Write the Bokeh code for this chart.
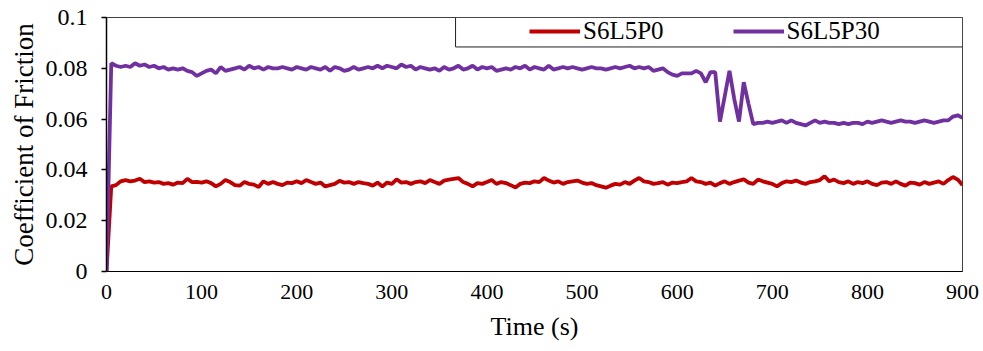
from bokeh.plotting import figure
from bokeh.models import (ColumnDataSource, FixedTicker, Legend, LegendItem,
                          BoxAnnotation)
from bokeh.embed import file_html
from bokeh.resources import INLINE

# ---------------- data ----------------
time_s = list(range(0, 901, 5))

s6l5p0 = [
    0, 0.0335, 0.034, 0.0355, 0.036, 0.0355, 0.0358, 0.0365, 0.0352, 0.0355,
    0.035, 0.0352, 0.0345, 0.0348, 0.0342, 0.035, 0.0348, 0.0365, 0.0352, 0.0353,
    0.035, 0.0355, 0.0348, 0.0335, 0.0345, 0.036, 0.0352, 0.034, 0.0338, 0.0352,
    0.0345, 0.0342, 0.0333, 0.0355, 0.0345, 0.0352, 0.0345, 0.034, 0.035, 0.0348,
    0.0355, 0.0348, 0.036, 0.0352, 0.0345, 0.035, 0.0335, 0.034, 0.0345, 0.0357,
    0.035, 0.0352, 0.0345, 0.0352, 0.0348, 0.0345, 0.0338, 0.035, 0.0335, 0.035,
    0.0345, 0.0363, 0.035, 0.0352, 0.0345, 0.0352, 0.0355, 0.0348, 0.036, 0.0352,
    0.0345, 0.0358, 0.0362, 0.0365, 0.0368, 0.0352, 0.0345, 0.0335, 0.0348, 0.0345,
    0.0352, 0.036, 0.0345, 0.0352, 0.0348, 0.034, 0.0331, 0.0345, 0.035, 0.0348,
    0.0355, 0.0352, 0.0368, 0.0358, 0.035, 0.0355, 0.0345, 0.0352, 0.0355, 0.0358,
    0.035, 0.0345, 0.0348, 0.034, 0.0335, 0.033, 0.0338, 0.0345, 0.0342, 0.0352,
    0.0345, 0.0358, 0.0368, 0.0355, 0.0352, 0.0345, 0.0348, 0.0352, 0.0342, 0.035,
    0.0348, 0.0352, 0.0355, 0.0368, 0.0355, 0.0352, 0.0345, 0.035, 0.0338, 0.0348,
    0.0355, 0.0345, 0.0352, 0.0358, 0.0363, 0.035, 0.0345, 0.0362, 0.0355, 0.035,
    0.0345, 0.0335, 0.0348, 0.0355, 0.0352, 0.0358, 0.035, 0.0345, 0.0352, 0.0355,
    0.036, 0.0375, 0.0355, 0.0362, 0.0352, 0.0348, 0.0355, 0.0345, 0.0352, 0.0348,
    0.0355, 0.0345, 0.034, 0.035, 0.0352, 0.0345, 0.0355, 0.0345, 0.0338, 0.035,
    0.0348, 0.0342, 0.0352, 0.0345, 0.035, 0.0355, 0.0345, 0.036, 0.0372, 0.0362,
    0.034,
]

s6l5p30 = [
    0, 0.082, 0.081, 0.0805, 0.081, 0.0805, 0.082, 0.081, 0.0815, 0.0805,
    0.081, 0.080, 0.0805, 0.0795, 0.080, 0.0795, 0.080, 0.079, 0.0785, 0.077,
    0.078, 0.079, 0.0795, 0.078, 0.0805, 0.079, 0.0795, 0.080, 0.0805, 0.0795,
    0.081, 0.080, 0.0805, 0.0795, 0.0805, 0.080, 0.080, 0.0805, 0.080, 0.0795,
    0.0805, 0.080, 0.0795, 0.0805, 0.080, 0.0795, 0.0805, 0.079, 0.0805, 0.080,
    0.079, 0.0795, 0.0805, 0.0795, 0.080, 0.0805, 0.080, 0.081, 0.080, 0.081,
    0.0805, 0.080, 0.0815, 0.0805, 0.081, 0.0795, 0.0805, 0.080, 0.0795, 0.080,
    0.079, 0.0805, 0.0795, 0.080, 0.081, 0.0795, 0.080, 0.081, 0.0795, 0.0805,
    0.080, 0.0805, 0.079, 0.0795, 0.080, 0.0795, 0.0805, 0.080, 0.081, 0.0795,
    0.0805, 0.080, 0.0795, 0.081, 0.0795, 0.080, 0.0805, 0.080, 0.0805, 0.080,
    0.0795, 0.080, 0.0805, 0.080, 0.080, 0.0795, 0.080, 0.0805, 0.080, 0.0805,
    0.081, 0.080, 0.0805, 0.080, 0.0805, 0.079, 0.0795, 0.080, 0.0785, 0.0775,
    0.077, 0.078, 0.078, 0.078, 0.079, 0.078, 0.0745, 0.0785, 0.0785, 0.059,
    0.069, 0.079, 0.068, 0.059, 0.0745, 0.066, 0.058, 0.0585, 0.0585, 0.059,
    0.0585, 0.059, 0.0595, 0.0585, 0.0595, 0.0585, 0.058, 0.0575, 0.0585, 0.0595,
    0.0585, 0.059, 0.0585, 0.0585, 0.058, 0.0585, 0.058, 0.0585, 0.0585, 0.058,
    0.059, 0.0585, 0.059, 0.0595, 0.059, 0.0585, 0.059, 0.0595, 0.059, 0.059,
    0.0585, 0.059, 0.0595, 0.059, 0.0585, 0.059, 0.0595, 0.0595, 0.061, 0.0615,
    0.0605,
]

series_names = ["S6L5P0", "S6L5P30"]
x_ticks = [0, 100, 200, 300, 400, 500, 600, 700, 800, 900]
y_ticks = [0, 0.02, 0.04, 0.06, 0.08, 0.1]
y_tick_labels = ["0", "0.02", "0.04", "0.06", "0.08", "0.1"]

# ---------------- figure ----------------
FONT = "Liberation Serif"
RED = "#C00000"
PURPLE = "#7030A0"

p = figure(width=983, height=350, x_range=(0, 900), y_range=(0, 0.1),
           output_backend="svg", toolbar_location=None,
           min_border_left=106, min_border_right=21,
           min_border_top=17, min_border_bottom=79)
p.outline_line_color = "#404040"
p.outline_line_width = 1
p.xgrid.visible = False
p.ygrid.visible = False
p.background_fill_color = "white"
p.border_fill_color = "white"

src0 = ColumnDataSource(dict(t=time_s[:len(s6l5p0)], v=s6l5p0))
src1 = ColumnDataSource(dict(t=time_s[:len(s6l5p30)], v=s6l5p30))
r0 = p.line("t", "v", source=src0, line_color=RED, line_width=3.8)
r1 = p.line("t", "v", source=src1, line_color=PURPLE, line_width=3.8)

# axes
xa = p.xaxis[0]
xa.ticker = FixedTicker(ticks=x_ticks)
xa.major_tick_line_color = None
xa.minor_tick_line_color = None
xa.major_tick_out = 0
xa.major_tick_in = 0
xa.major_label_standoff = 13
xa.axis_line_color = "black"
xa.axis_label = "Time (s)"
xa.axis_label_standoff = 10
xa.major_label_text_font_size = "22px"

ya = p.yaxis[0]
ya.ticker = FixedTicker(ticks=y_ticks)
ya.major_label_overrides = {t: l for t, l in zip(y_ticks, y_tick_labels)}
ya.minor_tick_line_color = None
ya.major_tick_out = 5
ya.major_tick_in = 0
ya.major_tick_line_color = "black"
ya.major_tick_line_width = 1.5
ya.major_label_standoff = 14
ya.axis_line_color = "black"
ya.axis_line_width = 1.5
ya.axis_label = "Coefficient of Friction"
ya.axis_label_standoff = 4
ya.major_label_text_font_size = "24px"

for ax in (xa, ya):
    ax.major_label_text_font = FONT
    ax.major_label_text_color = "black"
    ax.axis_label_text_font = FONT
    ax.axis_label_text_font_style = "normal"
    ax.axis_label_text_color = "black"
xa.axis_label_text_font_size = "26px"
ya.axis_label_text_font_size = "27px"

# legend frame
box = BoxAnnotation(left=367, right=900, bottom=0.0884, top=0.1,
                    fill_color="white", fill_alpha=1.0,
                    line_color="#202020", line_width=1, line_alpha=1.0)
p.add_layout(box)

legend = Legend(items=[LegendItem(label=series_names[0], renderers=[r0]),
                       LegendItem(label=series_names[1], renderers=[r1])],
                orientation="horizontal", location=(423, 226),
                padding=0, margin=0, spacing=69,
                glyph_width=51, glyph_height=28, label_height=28,
                label_standoff=3,
                label_text_font=FONT, label_text_font_size="25px",
                label_text_color="black",
                border_line_alpha=0, background_fill_alpha=0)
p.add_layout(legend, "center")

open("out.html", "w").write(file_html(p, INLINE))
